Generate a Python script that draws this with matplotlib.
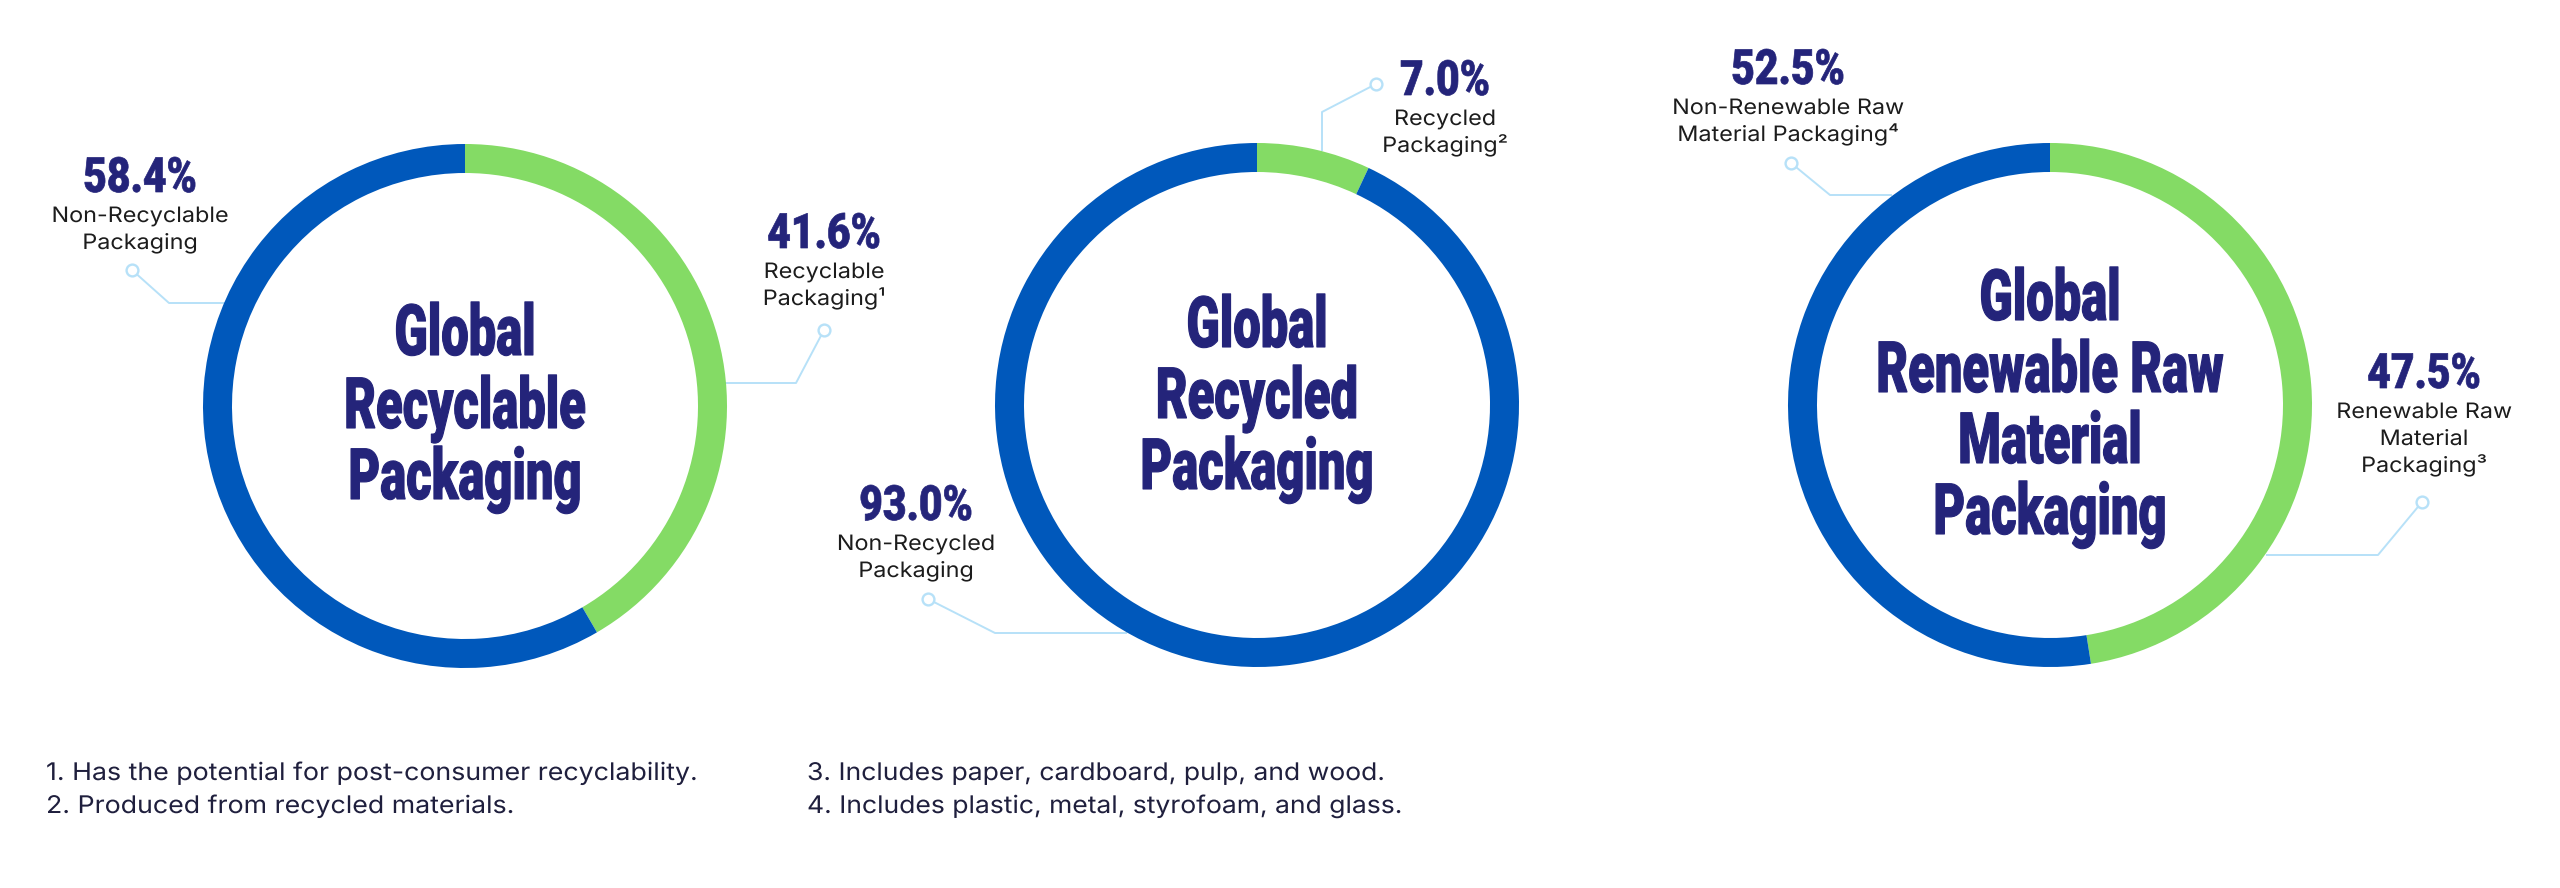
import matplotlib
matplotlib.use("Agg")
import matplotlib.pyplot as plt
import matplotlib.patheffects as pe
from matplotlib.transforms import Affine2D

# ---- data ----
titles = ["Global\nRecyclable\nPackaging",
          "Global\nRecycled\nPackaging",
          "Global\nRenewable Raw\nMaterial\nPackaging"]
green_share = [41.6, 7.0, 47.5]
blue_share = [58.4, 93.0, 52.5]
green_labels = ["Recyclable\nPackaging\u00b9",
                "Recycled\nPackaging\u00b2",
                "Renewable Raw\nMaterial\nPackaging\u00b3"]
blue_labels = ["Non-Recyclable\nPackaging",
               "Non-Recycled\nPackaging",
               "Non-Renewable Raw\nMaterial Packaging\u2074"]
footnotes_left = ["1. Has the potential for post-consumer recyclability.",
                  "2. Produced from recycled materials."]
footnotes_right = ["3. Includes paper, cardboard, pulp, and wood.",
                   "4. Includes plastic, metal, styrofoam, and glass."]

# ---- layout (pixel coords, y down) ----
W, H = 2560, 888
R, RING = 262, 29
centers = [(465, 406), (1257, 405), (2050, 405)]
title_base = [[355, 428, 499], [347, 418, 489], [320, 392, 463, 534]]
# (x, pct baseline) for green / blue label blocks
green_pos = [(824, 248), (1445, 95), (2424, 388)]
blue_pos = [(140, 192), (916, 520), (1788, 84)]
# dot -> elbow -> ring
green_conn = [[(824, 330), (796, 383), (725, 383)],
              [(1376, 84), (1322, 112), (1322, 151)],
              [(2422, 502), (2378, 555), (2266, 555)]]
blue_conn = [[(132, 270), (169, 303), (225, 303)],
             [(928, 599), (995, 633), (1127, 633)],
             [(1791, 163), (1830, 195), (1892, 195)]]

NAVY = "#24247a"
BLUE = "#0058bb"
GREEN = "#84db65"
LINE = "#b7e1f8"
INK = "#1c1c1c"
FOOT = "#1f1f3d"
LABEL_FONT = ["Inter", "DejaVu Sans"]
BOLD_FONT = ["Roboto", "Liberation Sans", "DejaVu Sans"]


class Squeeze(pe.AbstractPathEffect):
    '''Scale glyphs sideways around the text anchor, optionally fattening them
    with a stroke in the fill colour (no condensed / wide fonts installed).'''
    def __init__(self, text, sx, lw=0):
        super().__init__()
        self.text = text
        self.sx = sx
        self.lw = lw

    def draw_path(self, renderer, gc, tpath, affine, rgbFace=None):
        x0 = self.text.get_transform().transform(self.text.get_position())[0]
        tr = affine + Affine2D().translate(-x0, 0).scale(self.sx, 1).translate(x0, 0)
        if self.lw and rgbFace is not None:
            gc0 = renderer.new_gc()
            gc0.copy_properties(gc)
            gc0.set_linewidth(self.lw)
            gc0.set_foreground(rgbFace)
            gc0.set_joinstyle("round")
            renderer.draw_path(gc0, tpath, tr, rgbFace)
            gc0.restore()
        else:
            renderer.draw_path(gc, tpath, tr, rgbFace)


def bold_text(ax, x, y, s, size, sx, lw):
    t = ax.text(x, y, s, ha="center", va="baseline", fontsize=size,
                family=BOLD_FONT, weight="black", color=NAVY)
    t.set_path_effects([Squeeze(t, sx, lw)])
    return t


def plain_text(ax, x, y, s, size, color, ha="center", sx=1.1):
    t = ax.text(x, y, s, ha=ha, va="baseline", fontsize=size,
                family=LABEL_FONT, color=color)
    t.set_path_effects([Squeeze(t, sx)])
    return t


def label_block(ax, x, y, pct, label):
    bold_text(ax, x, y, f"{pct:.1f}%", 35, 0.84, 0.5)
    for i, line in enumerate(label.split("\n")):
        plain_text(ax, x, y + 30 + 27 * i, line, 15.3, INK)


def connector(ax, pts):
    xs = [p[0] for p in pts]
    ys = [p[1] for p in pts]
    ax.plot(xs, ys, color=LINE, lw=1.4, zorder=1, solid_capstyle="butt")
    ax.plot(xs[0], ys[0], "o", ms=8.5, mfc="white", mec=LINE, mew=1.7, zorder=2)


fig = plt.figure(figsize=(W / 100, H / 100), dpi=100)
ax = fig.add_axes([0, 0, 1, 1])

for i in range(3):
    ax.pie([green_share[i], blue_share[i]], colors=[GREEN, BLUE],
           startangle=-90, counterclock=True, radius=R, center=centers[i],
           wedgeprops=dict(width=RING, linewidth=0, zorder=3), frame=True)
    cx = centers[i][0]
    for line, yb in zip(titles[i].split("\n"), title_base[i]):
        bold_text(ax, cx, yb, line, 51, 0.69, 0.8)
    connector(ax, green_conn[i])
    connector(ax, blue_conn[i])
    label_block(ax, green_pos[i][0], green_pos[i][1], green_share[i], green_labels[i])
    label_block(ax, blue_pos[i][0], blue_pos[i][1], blue_share[i], blue_labels[i])

for j, s in enumerate(footnotes_left):
    plain_text(ax, 46, 780 + 33 * j, s, 17.5, FOOT, ha="left", sx=1.1)
for j, s in enumerate(footnotes_right):
    plain_text(ax, 807, 780 + 33 * j, s, 17.5, FOOT, ha="left", sx=1.09)

ax.set_xlim(0, W)
ax.set_ylim(H, 0)
ax.set_aspect("equal")
ax.axis("off")

fig.savefig("out.png", dpi=100, facecolor="white")
